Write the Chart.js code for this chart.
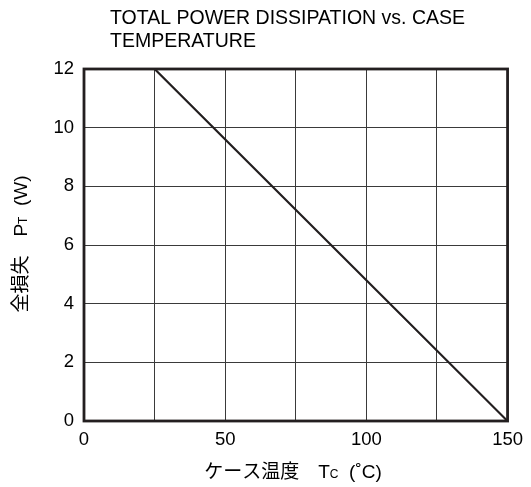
<!DOCTYPE html>
<html>
<head>
<meta charset="utf-8">
<script src="https://cdn.jsdelivr.net/npm/chart.js@4"></script>
<style>
  body { margin: 0; background: #fff; }
</style>
</head>
<body>
<canvas id="powerChart" width="531" height="487"></canvas>
<script>
const caseTemp = [0, 25, 150];
const powerW = [12, 12, 0];
const xTicks = [0, 50, 100, 150];
const titleLines = ["TOTAL POWER DISSIPATION vs. CASE", "TEMPERATURE"];
const xTitle = [["ケース温度\u3000T", 19, 0], ["C", 12, 0], ["  (˚C)", 19, 0]];
const yTitle = [["全損失\u3000P", 19, 0], ["T", 12, 0], ["  (W)", 19, 0]];

const FONT = "'Liberation Sans', Arial, 'Noto Sans CJK JP', sans-serif";

function drawPieces(ctx, pieces, cx, cy, rotate) {
  ctx.save();
  ctx.translate(cx, cy);
  if (rotate) ctx.rotate(-Math.PI / 2);
  let total = 0;
  pieces.forEach(p => { ctx.font = p[1] + "px " + FONT; total += ctx.measureText(p[0]).width; });
  let x = -total / 2;
  ctx.fillStyle = "#000";
  ctx.textBaseline = "alphabetic";
  pieces.forEach(p => {
    ctx.font = p[1] + "px " + FONT;
    ctx.fillText(p[0], x, 5 + p[2]);
    x += ctx.measureText(p[0]).width;
  });
  ctx.restore();
}

const framePlugin = {
  id: "frame",
  afterDatasetsDraw(chart) {
    const { ctx, chartArea: a } = chart;
    ctx.save();
    ctx.strokeStyle = "#231f20";
    ctx.lineWidth = 2.8;
    ctx.strokeRect(a.left, a.top, a.right - a.left, a.bottom - a.top);
    ctx.restore();
  },
  afterDraw(chart) {
    const ctx = chart.ctx;
    ctx.save();
    ctx.fillStyle = "#000";
    ctx.font = "19.5px " + FONT;
    ctx.textBaseline = "alphabetic";
    ctx.fillText(titleLines[0], 110, 24);
    ctx.fillText(titleLines[1], 110, 46.5);
    ctx.restore();
    drawPieces(ctx, xTitle, 293, 473, false);
    drawPieces(ctx, yTitle, 22, 244, true);
  }
};

new Chart(document.getElementById("powerChart"), {
  type: "scatter",
  data: {
    datasets: [{
      data: caseTemp.map((t, i) => ({ x: t, y: powerW[i] })),
      showLine: true,
      borderColor: "#231f20",
      borderWidth: 2.2,
      pointRadius: 0,
      tension: 0
    }]
  },
  options: {
    responsive: false,
    animation: false,
    devicePixelRatio: 1,
    layout: { padding: { top: 69, right: 23, left: 0, bottom: 0 } },
    plugins: { legend: { display: false }, tooltip: { enabled: false } },
    scales: {
      x: {
        type: "linear",
        min: 0, max: 150,
        afterFit: s => { s.height = 66; },
        grid: { color: "#3a3a3a", lineWidth: 1, drawTicks: false },
        border: { display: false },
        ticks: {
          stepSize: 25,
          padding: 8,
          color: "#000",
          font: { family: FONT, size: 18.5 },
          callback: v => xTicks.includes(v) ? String(v) : ""
        }
      },
      y: {
        min: 0, max: 12,
        afterFit: s => { s.width = 84; },
        grid: { color: "#3a3a3a", lineWidth: 1, drawTicks: false },
        border: { display: false },
        ticks: { stepSize: 2, padding: 10, color: "#000", font: { family: FONT, size: 18.5 } }
      }
    }
  },
  plugins: [framePlugin]
});
</script>
</body>
</html>
